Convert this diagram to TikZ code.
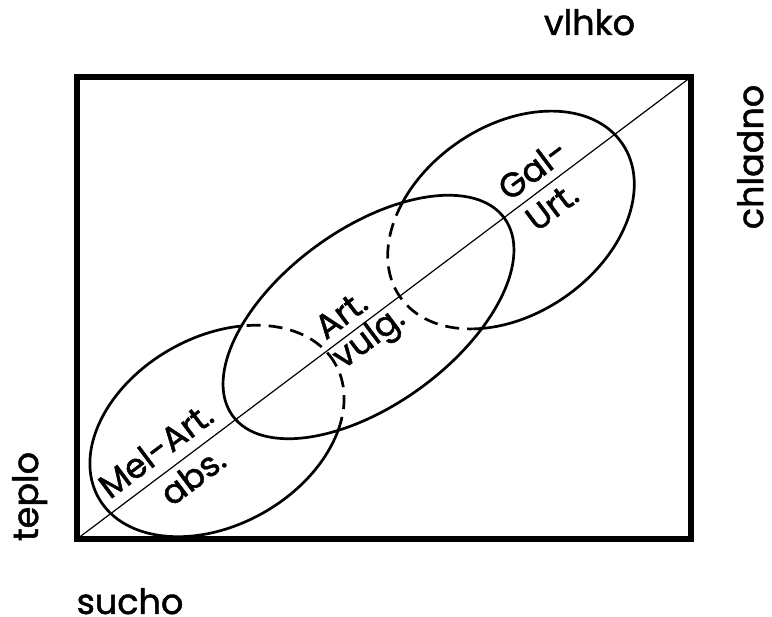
\documentclass[tikz,border=0pt]{standalone}
\usepackage{fontspec}
\setmainfont{Poppins}
\newfontfamily\lblfont{Poppins}[FakeBold=1.4]
\begin{document}
\begin{tikzpicture}[x=1pt,y=1pt,
  frame/.style={line width=5.5pt, line join=miter},
  oval/.style={line width=2.7pt},
  dashedoval/.style={line width=2.7pt, dash pattern=on 14pt off 8pt},
  diag/.style={line width=1.2pt},
  inlbl/.style={font=\lblfont\fontsize{34}{36}\selectfont, rotate=36.9, anchor=base, inner sep=0pt},
  outlbl/.style={font=\lblfont\fontsize{35}{38}\selectfont, anchor=base, inner sep=0pt}]
\useasboundingbox (0,0) rectangle (772,617);
\coordinate (BL) at (77,78);
\coordinate (TR) at (691,540);
\coordinate (c1) at (217,186);
\coordinate (c2) at (368.5,300);
\coordinate (c3) at (511,397);
% solid parts outside the middle oval
\begin{scope}
  \clip[rotate around={36:(c2)}] (c2) ellipse [x radius=168, y radius=88]
     (-2000,-2000) -- (-2000,2600) -- (2600,2600) -- (2600,-2000) -- cycle;
  \draw[oval, rotate around={29.5:(c1)}] (c1) ellipse [x radius=136, y radius=94];
  \draw[oval, rotate around={34.6:(c3)}] (c3) ellipse [x radius=135, y radius=94];
\end{scope}
% dashed parts inside the middle oval
\begin{scope}
  \clip[rotate around={36:(c2)}] (c2) ellipse [x radius=168, y radius=88];
  \draw[dashedoval, rotate around={29.5:(c1)}] (c1) ellipse [x radius=136, y radius=94];
  \draw[dashedoval, rotate around={34.6:(c3)}] (c3) ellipse [x radius=135, y radius=94];
\end{scope}
\draw[oval, rotate around={36:(c2)}] (c2) ellipse [x radius=168, y radius=88];
\draw[frame] (BL) rectangle (TR);
\draw[diag] (BL) -- (TR);
% labels
\node[inlbl] (melart) at (163,157) {Mel-Art.};
\node[inlbl] (abs) at (200,131) {abs.};
\node[inlbl] (art) at (348,293) {Art.};
\node[inlbl] (vulg) at (375,271) {vulg.};
\node[inlbl] (gal) at (540,438) {Gal-};
\node[inlbl] (urt) at (559,401) {Urt.};
\node[outlbl] (vlhko) at (589.5,582) {vlhko};
\node[outlbl, rotate=90] (chladno) at (763,460) {chladno};
\node[outlbl, rotate=90] (teplo) at (38,120.5) {teplo};
\node[outlbl] (sucho) at (130,3) {sucho};
\end{tikzpicture}
\end{document}
